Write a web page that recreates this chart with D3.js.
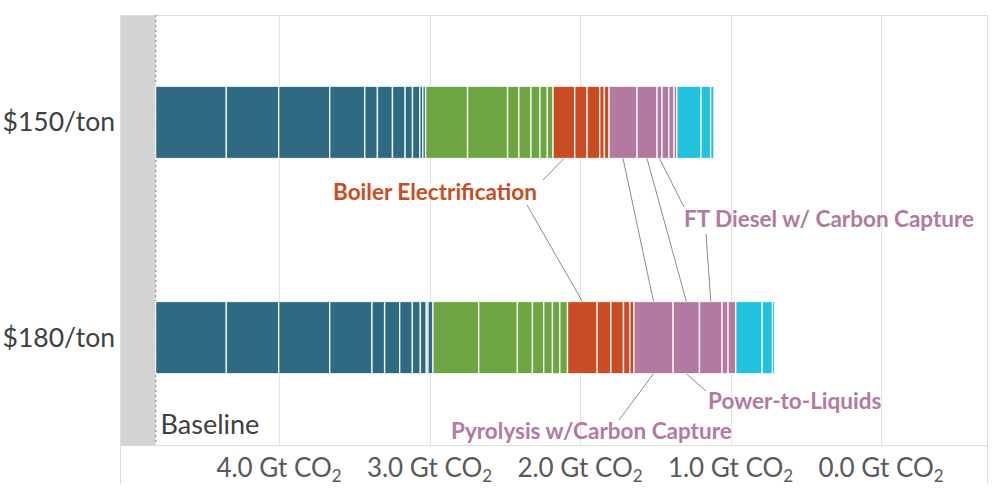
<!DOCTYPE html>
<html><head><meta charset="utf-8">
<script src="https://cdn.jsdelivr.net/npm/d3@7"></script>
<style>body{margin:0;background:#fff}svg{display:block}</style>
</head><body><svg id="c" width="1003" height="499"></svg>
<script>
// ---- data ----
const categories = ["$150/ton", "$180/ton"];
const baselineValue = 4.82;            // Gt CO2
const tickValues = [4, 3, 2, 1, 0];
const tickLabels = ["4.0 Gt CO", "3.0 Gt CO", "2.0 Gt CO", "1.0 Gt CO", "0.0 Gt CO"];
const groupNames = ["industry", "agriculture", "boiler", "fuels", "other"];
const groupColors = ["#2e6b82", "#6da543", "#c94c24", "#b27aa1", "#22c1de"];
// abatement segments (Gt CO2), $150/ton
const industry150 = [0.470, 0.348, 0.339, 0.233, 0.084, 0.100, 0.084, 0.049, 0.049, 0.020, 0.018];
const agriculture150 = [0.279, 0.266, 0.075, 0.080, 0.060, 0.049, 0.038];
const boiler150 = [0.144, 0.082, 0.084, 0.031, 0.031];
const fuels150 = [0.186, 0.133, 0.033, 0.045, 0.035, 0.018];
const other150 = [0.161, 0.064, 0.022];
// $180/ton
const industry180 = [0.470, 0.348, 0.339, 0.281, 0.084, 0.100, 0.084, 0.053, 0.040, 0.011, 0.033];
const agriculture180 = [0.304, 0.257, 0.100, 0.075, 0.058, 0.049, 0.051];
const boiler180 = [0.197, 0.091, 0.084, 0.042, 0.027];
const fuels180 = [0.261, 0.175, 0.150, 0.040, 0.051];
const other180 = [0.175, 0.069, 0.015];
const barGroups = [
  [industry150, agriculture150, boiler150, fuels150, other150],
  [industry180, agriculture180, boiler180, fuels180, other180]
];
// annotations: label, group index, segment index
const annotations = [
  {label: "Boiler Electrification", group: 2, seg: 0},
  {label: "FT Diesel w/ Carbon Capture", group: 3, seg: 2},
  {label: "Power-to-Liquids", group: 3, seg: 1},
  {label: "Pyrolysis w/Carbon Capture", group: 3, seg: 0}
];

// ---- layout ----
const svg = d3.select("#c");
const plot = {left: 120, right: 987, top: 15, bottom: 445};
const x = d3.scaleLinear().domain([4, 0]).range([279, 881]);
const y = d3.scaleBand().domain(categories).range([plot.top, plot.bottom])
  .paddingInner(0.664).paddingOuter(0.331);
const FONT = "Lato, 'Open Sans', sans-serif";

// frame
svg.append("rect").attr("x", plot.left + 0.5).attr("y", plot.top + 0.5)
  .attr("width", plot.right - plot.left).attr("height", plot.bottom - plot.top)
  .attr("fill", "none").attr("stroke", "#dcdcdc");
svg.append("line").attr("x1", plot.left + 0.5).attr("x2", plot.left + 0.5)
  .attr("y1", plot.bottom).attr("y2", 484).attr("stroke", "#dcdcdc");
svg.append("line").attr("x1", plot.right + 0.5).attr("x2", plot.right + 0.5)
  .attr("y1", plot.bottom).attr("y2", 484).attr("stroke", "#dcdcdc");

// gridlines
svg.append("g").selectAll("line").data(tickValues).join("line")
  .attr("x1", d => Math.round(x(d)) + 0.5).attr("x2", d => Math.round(x(d)) + 0.5)
  .attr("y1", plot.top).attr("y2", plot.bottom)
  .attr("stroke", "#e3e3e3");

// baseline region
svg.append("rect").attr("x", plot.left + 1).attr("y", plot.top + 1)
  .attr("width", x(baselineValue) - plot.left - 1).attr("height", plot.bottom - plot.top - 1)
  .attr("fill", "#d4d4d4");
svg.append("line").attr("x1", x(baselineValue)).attr("x2", x(baselineValue))
  .attr("y1", plot.top).attr("y2", plot.bottom)
  .attr("stroke", "#9a9a9a").attr("stroke-width", 1.5).attr("stroke-dasharray", "2,3");

// bars
const segPos = [];
barGroups.forEach((groups, bi) => {
  let cum = 0;
  segPos[bi] = [];
  const g = svg.append("g");
  groups.forEach((segs, gi) => {
    segPos[bi][gi] = [];
    segs.forEach(w => {
      const x0 = x(baselineValue - cum), x1 = x(baselineValue - cum - w);
      segPos[bi][gi].push({x0, x1});
      g.append("rect").attr("x", x0).attr("y", y(categories[bi]))
        .attr("width", x1 - x0).attr("height", y.bandwidth())
        .attr("fill", groupColors[gi])
        .attr("stroke", "#ffffff").attr("stroke-opacity", 0.85).attr("stroke-width", 1.4);
      cum += w;
    });
  });
});

// category labels
svg.append("g").selectAll("text").data(categories).join("text")
  .attr("x", 115).attr("y", d => y(d) + y.bandwidth() / 2 + 9)
  .attr("text-anchor", "end").attr("font-family", FONT).attr("font-size", 26.5)
  .attr("fill", "#404040").text(d => d);

svg.append("text").attr("x", x(baselineValue) + 5).attr("y", 434)
  .attr("font-family", FONT).attr("font-size", 27).attr("fill", "#404040").text("Baseline");

// axis labels
const axG = svg.append("g");
tickValues.forEach((v, i) => {
  const t = axG.append("text").attr("x", x(v)).attr("y", 477)
    .attr("text-anchor", "middle").attr("font-family", FONT).attr("font-size", 26)
    .attr("fill", "#595959");
  t.append("tspan").text(tickLabels[i]);
  t.append("tspan").attr("font-size", 17).attr("dy", 5).text("2");
});

// annotations
const bar1Bottom = y(categories[0]) + y.bandwidth();
const bar2Top = y(categories[1]);
const bar2Bottom = y(categories[1]) + y.bandwidth();
const mid = (bi, a) => { const s = segPos[bi][a.group][a.seg]; return (s.x0 + s.x1) / 2; };
const lineStyle = sel => sel.attr("stroke", "#8c8c8c").attr("stroke-width", 1).attr("fill", "none");
const ann = svg.append("g");
[annotations[3], annotations[2]].forEach(a => {
  ann.append("line").attr("x1", mid(0, a)).attr("y1", bar1Bottom)
    .attr("x2", mid(1, a)).attr("y2", bar2Top).call(lineStyle);
});
ann.append("line").attr("x1", mid(0, annotations[0])).attr("y1", bar1Bottom)
  .attr("x2", 543).attr("y2", 180).call(lineStyle);
ann.append("line").attr("x1", 527).attr("y1", 205)
  .attr("x2", mid(1, annotations[0])).attr("y2", bar2Top).call(lineStyle);
ann.append("line").attr("x1", mid(0, annotations[1])).attr("y1", bar1Bottom)
  .attr("x2", 684).attr("y2", 207).call(lineStyle);
ann.append("line").attr("x1", 706).attr("y1", 234)
  .attr("x2", mid(1, annotations[1])).attr("y2", bar2Top).call(lineStyle);
ann.append("line").attr("x1", mid(1, annotations[2])).attr("y1", bar2Bottom)
  .attr("x2", 706).attr("y2", 391).call(lineStyle);
ann.append("line").attr("x1", mid(1, annotations[3])).attr("y1", bar2Bottom)
  .attr("x2", 619).attr("y2", 420).call(lineStyle);

const labelPos = [
  {x: 333, y: 200}, {x: 684, y: 227}, {x: 708, y: 409}, {x: 451, y: 439}
];
annotations.forEach((a, i) => {
  ann.append("text").attr("x", labelPos[i].x).attr("y", labelPos[i].y)
    .attr("font-family", FONT).attr("font-size", 22.5).attr("font-weight", 700)
    .attr("fill", groupColors[a.group]).text(a.label);
});
</script></body></html>
